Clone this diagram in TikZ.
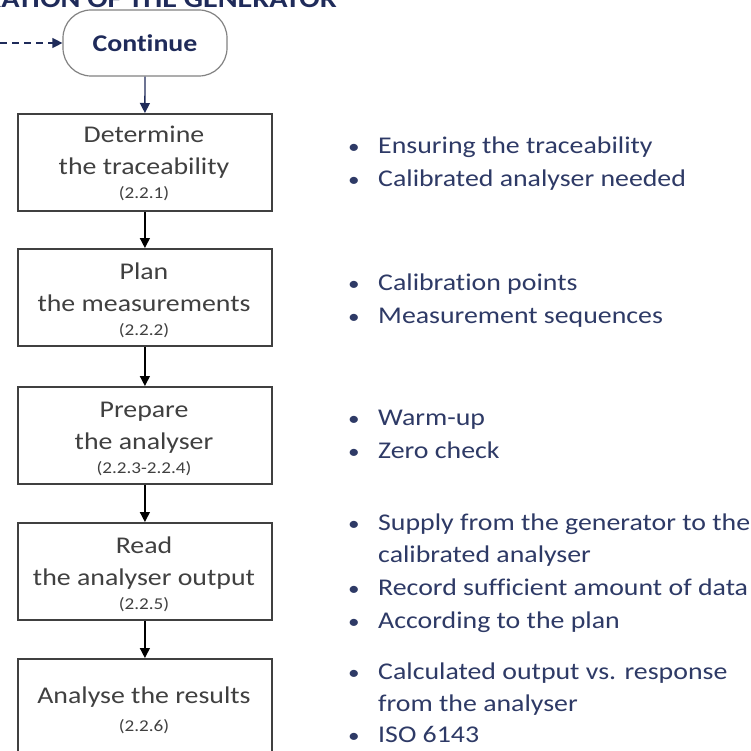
\documentclass[tikz,border=0pt]{standalone}
\usepackage{fontspec}
\setmainfont[FakeStretch=1.16,Ligatures={NoCommon}]{Carlito}
\usetikzlibrary{arrows.meta}
\definecolor{navy}{RGB}{31,43,90}
\definecolor{bulnavy}{RGB}{46,58,102}
\definecolor{boxgray}{RGB}{64,64,64}
\definecolor{contgray}{RGB}{130,130,130}
\begin{document}
\begin{tikzpicture}[x=1pt,y=-1pt,
  stepbox/.style={draw=boxgray,line width=1.8pt,minimum width=254pt,minimum height=97pt,anchor=north west,inner sep=0pt},
  boxtxt/.style={anchor=base,inner sep=0pt,text=boxgray,font=\fontsize{24}{24}\selectfont},
  subtxt/.style={anchor=base,inner sep=0pt,text=boxgray,font=\fontsize{16.5}{16.5}\selectfont},
  bultxt/.style={anchor=base west,inner sep=0pt,text=bulnavy,font=\fontsize{24}{24}\selectfont},
  bulmark/.style={anchor=base,inner sep=0pt,text=bulnavy,font=\fontsize{20}{20}\selectfont},
  flow/.style={line width=1.4pt,-{Triangle[width=10pt,length=10pt]}},
]
\useasboundingbox (0,0) rectangle (751,751);
\clip (0,0) rectangle (751,751);
\fill[white] (0,0) rectangle (751,751);
% title (cut off at top)
\node[anchor=base east,inner sep=0pt,text=navy,font=\bfseries\fontsize{26}{26}\selectfont] (title) at (337,8) {CALIBRATION OF THE GENERATOR};
% continue
\node[draw=contgray,line width=1.2pt,rounded corners=28pt,minimum width=164pt,minimum height=66pt,inner sep=0pt,text=navy,font=\bfseries\fontsize{24}{24}\selectfont] (cont) at (145,43) {Continue};
\coordinate (dstart) at (0,43);
\draw[navy,line width=1.3pt,dash pattern=on 7pt off 5pt,-{Triangle[width=10pt,length=10pt]}] (dstart) -- (cont.west);
% boxes
\node[stepbox] (b1) at (17,113) {};
\node[stepbox] (b2) at (17,248) {};
\node[stepbox] (b3) at (17,386) {};
\node[stepbox] (b4) at (17,522) {};
\node[stepbox] (b5) at (17,658) {};
\draw[flow,navy] (cont.south) -- (b1.north);
\draw[flow,black] (b1.south) -- (b2.north);
\draw[flow,black] (b2.south) -- (b3.north);
\draw[flow,black] (b3.south) -- (b4.north);
\draw[flow,black] (b4.south) -- (b5.north);
% box texts
\node[boxtxt] (t1a) at (144,143) {Determine};
\node[boxtxt] (t1b) at (144,175) {the traceability};
\node[subtxt] (t1c) at (144,199) {(2.2.1)};
\node[boxtxt] (t2a) at (144,279) {Plan};
\node[boxtxt] (t2b) at (144,311) {the measurements};
\node[subtxt] (t2c) at (144,335) {(2.2.2)};
\node[boxtxt] (t3a) at (144,417) {Prepare};
\node[boxtxt] (t3b) at (144,449) {the analyser};
\node[subtxt] (t3c) at (144,473) {(2.2.3-2.2.4)};
\node[boxtxt] (t4a) at (144,553) {Read};
\node[boxtxt] (t4b) at (144,585) {the analyser output};
\node[subtxt] (t4c) at (144,609) {(2.2.5)};
\node[boxtxt] (t5a) at (144,703) {Analyse the results};
\node[subtxt] (t5b) at (144,731) {(2.2.6)};
% bullets
\foreach \n/\y/\t in {
  e1/154/Ensuring the traceability,
  e2/187/Calibrated analyser needed,
  e3/290/Calibration points,
  e4/323/Measurement sequences,
  e5/425/Warm-up,
  e6/458/Zero check,
  e7/530/Supply from the generator to the,
  e9/595/Record sufficient amount of data,
  e10/628/According to the plan,
  e11/679/Calculated output vs. response,
  e13/742/ISO 6143}{
  \node[bulmark] (m\n) at (354,\y) {•};
  \node[bultxt] (\n) at (378,\y) {\t};
}
\node[bultxt] (e8) at (378,562) {calibrated analyser};
\node[bultxt] (e12) at (378,711) {from the analyser};
\end{tikzpicture}
\end{document}
